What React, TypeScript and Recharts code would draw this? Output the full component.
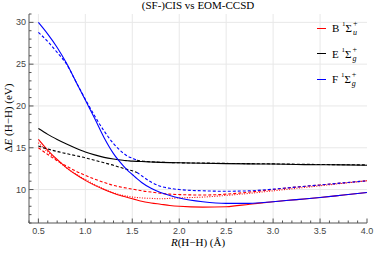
import { LineChart, Line, XAxis, YAxis, ReferenceLine } from 'recharts';

// bond length R(H-H) in Angstrom
const R = [0.5, 0.6, 0.7, 0.8, 0.9, 1.0, 1.1, 1.2, 1.3, 1.4, 1.45, 1.5, 1.55, 1.6, 1.7, 1.8, 1.9, 2.0, 2.25, 2.5, 2.75, 3.0, 3.25, 3.5, 3.75, 4.0];

// excitation energies in eV
const B_CIS = [16.0, 14.7, 13.6, 12.6, 11.8, 11.1, 10.5, 10.0, 9.55, 9.2, 9.05, 8.9, 8.75, 8.6, 8.4, 8.25, 8.1, 8.0, 7.9, 7.95, 8.25, 8.55, 8.8, 9.05, 9.35, 9.65];
const B_SF = [15.6, 14.5, 13.5, 12.6, 11.85, 11.2, 10.6, 10.05, 9.6, 9.3, 9.2, 9.1, 9.05, 9.0, 8.95, 8.9, 8.95, 9.0, 9.1, 9.3, 9.55, 9.85, 10.15, 10.45, 10.75, 11.05];
const B_EOM = [15.0, 14.2, 13.45, 12.8, 12.2, 11.7, 11.25, 10.85, 10.5, 10.25, 10.15, 10.05, 9.95, 9.85, 9.7, 9.55, 9.45, 9.4, 9.35, 9.45, 9.7, 10.0, 10.3, 10.55, 10.8, 11.05];
const E_CIS = [17.3, 16.6, 16.0, 15.45, 14.95, 14.5, 14.15, 13.85, 13.65, 13.5, 13.45, 13.4, 13.37, 13.35, 13.3, 13.25, 13.22, 13.2, 13.15, 13.1, 13.07, 13.05, 13.0, 12.97, 12.95, 12.9];
const E_EOM_SHORT = [15.2, 14.85, 14.55, 14.3, 14.05, 13.8, 13.5, 13.2, 12.9, 12.55, 12.4, 12.25, 12.05, null, null, null, null, null, null, null, null, null, null, null, null, null];
const E_EOM_LONG = [null, null, null, null, null, null, null, null, null, null, null, null, 13.5, 13.42, 13.32, 13.27, 13.23, 13.2, 13.17, 13.13, 13.1, 13.07, 13.03, 13.0, 12.97, 12.95];
const F_CIS = [30.0, 28.6, 27.0, 25.1, 22.9, 20.7, 18.5, 16.2, 14.3, 12.9, 12.3, 11.8, 11.3, 10.85, 10.15, 9.65, 9.3, 9.0, 8.55, 8.35, 8.35, 8.55, 8.8, 9.05, 9.35, 9.65];
const F_EOM_SHORT = [28.8, 27.7, 26.4, 25.0, 22.9, 20.8, 18.8, 17.0, 15.5, 14.4, 14.0, 13.75, 13.5, null, null, null, null, null, null, null, null, null, null, null, null, null];
const F_EOM_LONG = [null, null, null, null, null, null, null, null, null, null, null, null, 12.05, 11.65, 10.9, 10.4, 10.15, 10.0, 9.85, 9.8, 9.85, 10.05, 10.3, 10.55, 10.8, 11.05];

const X_MAJOR = [0.5, 1.0, 1.5, 2.0, 2.5, 3.0, 3.5, 4.0];
const X_TICKS = [0.4, 0.5, 0.6, 0.7, 0.8, 0.9, 1.0, 1.1, 1.2, 1.3, 1.4, 1.5, 1.6, 1.7, 1.8, 1.9, 2.0, 2.1, 2.2, 2.3, 2.4, 2.5, 2.6, 2.7, 2.8, 2.9, 3.0, 3.1, 3.2, 3.3, 3.4, 3.5, 3.6, 3.7, 3.8, 3.9, 4.0];
const Y_MAJOR = [10, 15, 20, 25, 30];
const Y_TICKS = [6, 7, 8, 9, 10, 11, 12, 13, 14, 15, 16, 17, 18, 19, 20, 21, 22, 23, 24, 25, 26, 27, 28, 29, 30, 31];

const LEGEND_NAMES = ['B', 'E', 'F'];
const LEGEND_SUBS = ['u', 'g', 'g'];
const LEGEND_COLORS = ['#ff0000', '#000000', '#0000ff'];

const data = R.map((r, i) => ({
  r,
  bCis: B_CIS[i],
  bSf: B_SF[i],
  bEom: B_EOM[i],
  eCis: E_CIS[i],
  eEomS: E_EOM_SHORT[i],
  eEomL: E_EOM_LONG[i],
  fCis: F_CIS[i],
  fEomS: F_EOM_SHORT[i],
  fEomL: F_EOM_LONG[i],
}));

const series = [
  { key: 'bEom', color: '#ff0000', dash: '3 2' },
  { key: 'bSf', color: '#ff0000', dash: '1 1.5' },
  { key: 'bCis', color: '#ff0000', dash: undefined },
  { key: 'eEomS', color: '#000000', dash: '3 2' },
  { key: 'eEomL', color: '#000000', dash: '3 2' },
  { key: 'eCis', color: '#000000', dash: undefined },
  { key: 'fEomS', color: '#0000ff', dash: '3 2' },
  { key: 'fEomL', color: '#0000ff', dash: '3 2' },
  { key: 'fCis', color: '#0000ff', dash: undefined },
];

const FRAME = '#555';
const GRID = '#e8e8e8';
const TICK_FONT = { fontFamily: 'Liberation Sans, Arial, sans-serif', fontSize: 9, fill: '#444' };
const SERIF = 'Liberation Serif, Times New Roman, serif';

const near = (list: number[], v: number) => list.some((m) => Math.abs(m - v) < 1e-6);

const makeXTick = (dir: 1 | -1, label: boolean) => (props: any) => {
  const { x, y, payload } = props;
  const major = near(X_MAJOR, payload.value);
  return (
    <g>
      <line x1={x} x2={x} y1={y} y2={y - dir * (major ? 4.5 : 2.5)} stroke={FRAME} />
      {label && major && (
        <text x={x} y={y + 11} textAnchor="middle" {...TICK_FONT}>
          {payload.value.toFixed(1)}
        </text>
      )}
    </g>
  );
};

const makeYTick = (dir: 1 | -1, label: boolean) => (props: any) => {
  const { x, y, payload } = props;
  const major = near(Y_MAJOR, payload.value);
  return (
    <g>
      <line x1={x} x2={x + dir * (major ? 4.5 : 2.5)} y1={y} y2={y} stroke={FRAME} />
      {label && major && (
        <text x={x - 3} y={y + 3} textAnchor="end" {...TICK_FONT}>
          {payload.value}
        </text>
      )}
    </g>
  );
};

// term symbol like "B ¹Σ⁺_u" with the + and the parity label stacked
const Term = ({ name, sub }: { name: string; sub: string }) => (
  <span style={{ display: 'inline-flex', alignItems: 'center' }}>
    <span>{name}&nbsp;</span>
    <span style={{ fontSize: 7, position: 'relative', top: -4 }}>1</span>
    <span>Σ</span>
    <span style={{ display: 'inline-flex', flexDirection: 'column', fontSize: 8, lineHeight: '9px', marginLeft: 1 }}>
      <span>+</span>
      <span style={{ fontStyle: 'italic' }}>{sub}</span>
    </span>
  </span>
);

export default function App() {
  return (
    <div style={{ position: 'absolute', left: 0, top: 0, width: 374, height: 254, background: '#fff' }}>
      <LineChart width={374} height={254} data={data} margin={{ top: 14, right: 7, bottom: 0, left: 0 }}>
        <XAxis xAxisId="b" dataKey="r" type="number" domain={[0.4, 4]} ticks={X_TICKS} interval={0}
          height={31} tickSize={0} tickMargin={0} tickLine={false} tick={makeXTick(1, true)}
          axisLine={{ stroke: FRAME }} allowDataOverflow />
        <XAxis xAxisId="t" dataKey="r" type="number" orientation="top" domain={[0.4, 4]} ticks={X_TICKS} interval={0}
          height={0} tickSize={0} tickMargin={0} tickLine={false} tick={makeXTick(-1, false)}
          axisLine={{ stroke: FRAME }} allowDataOverflow />
        <YAxis yAxisId="l" type="number" domain={[6, 31]} ticks={Y_TICKS} interval={0}
          width={29} tickSize={0} tickMargin={0} tickLine={false} tick={makeYTick(1, true)}
          axisLine={{ stroke: FRAME }} allowDataOverflow />
        <YAxis yAxisId="r" type="number" orientation="right" domain={[6, 31]} ticks={Y_TICKS} interval={0}
          width={0} tickSize={0} tickMargin={0} tickLine={false} tick={makeYTick(-1, false)}
          axisLine={{ stroke: FRAME }} allowDataOverflow />
        {X_MAJOR.slice(0, -1).map((v) => (
          <ReferenceLine key={`gx${v}`} xAxisId="b" yAxisId="l" x={v} stroke={GRID} />
        ))}
        {Y_MAJOR.map((v) => (
          <ReferenceLine key={`gy${v}`} xAxisId="b" yAxisId="l" y={v} stroke={GRID} />
        ))}
        {series.map((s) => (
          <Line key={s.key} xAxisId="b" yAxisId="l" dataKey={s.key} type="monotone" stroke={s.color}
            strokeWidth={1.1} strokeDasharray={s.dash} dot={false} activeDot={false} isAnimationActive={false} />
        ))}
      </LineChart>

      <div style={{ position: 'absolute', left: 29, top: -1, width: 338, textAlign: 'center', fontFamily: SERIF, fontSize: 11 }}>
        (SF-)CIS vs EOM-CCSD
      </div>
      <div style={{ position: 'absolute', left: 29, top: 236, width: 338, textAlign: 'center', fontFamily: SERIF, fontSize: 11 }}>
        <i>R</i>(H−H) (Å)
      </div>
      <div style={{ position: 'absolute', left: 8, top: 118.5, width: 0, height: 0 }}>
        <div style={{ position: 'absolute', left: -60, top: -7, width: 120, textAlign: 'center', fontFamily: SERIF, fontSize: 11, transform: 'rotate(-90deg)', whiteSpace: 'nowrap' }}>
          Δ<i>E</i> (H−H) (eV)
        </div>
      </div>
      {LEGEND_NAMES.map((n, i) => (
        <div key={n} style={{ position: 'absolute', left: 317, top: 19 + i * 25.5, height: 18, display: 'flex', alignItems: 'center', fontFamily: SERIF, fontSize: 11, whiteSpace: 'nowrap' }}>
          <span style={{ display: 'inline-block', width: 9, height: 1, background: LEGEND_COLORS[i], marginRight: 6 }} />
          <Term name={n} sub={LEGEND_SUBS[i]} />
        </div>
      ))}
    </div>
  );
}
